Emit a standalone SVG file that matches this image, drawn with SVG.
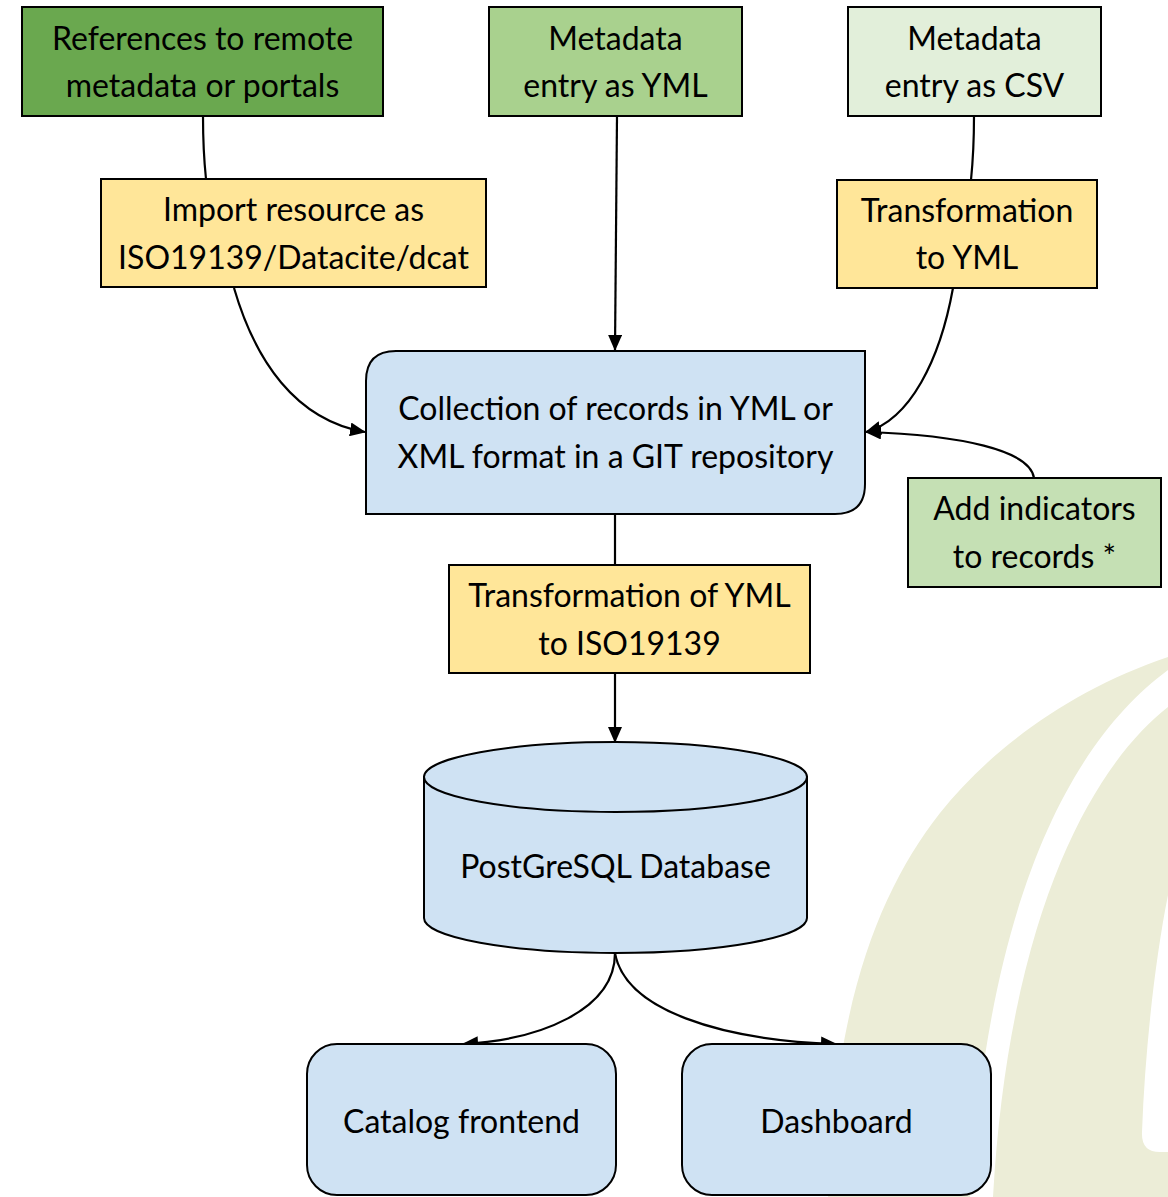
<svg xmlns="http://www.w3.org/2000/svg" width="1168" height="1197" viewBox="0 0 1168 1197">
<defs>
<style>
.box{stroke:#000;stroke-width:2}
.lbl{font-family:Lato,"Open Sans","Liberation Sans",sans-serif;font-size:32px;fill:#000;text-anchor:middle}
.con{fill:none;stroke:#000;stroke-width:2.2}
.wm{fill:#ECEDD7}
</style>
<marker id="arr" markerUnits="userSpaceOnUse" markerWidth="16" markerHeight="14" viewBox="0 0 16 14" refX="15" refY="7" orient="auto">
<path d="M0,0 L16,7 L0,14 Z" fill="#000"/>
</marker>
</defs>
<rect width="1168" height="1197" fill="#fff"/>
<g id="watermark">
<path class="wm" d="M828,1197 C835,1000 880,890 940,813 C990,750 1070,690 1168,657 L1168,670 C1080,735 990,880 970,1197 Z"/>
<path class="wm" d="M1168,707 C1100,760 1010,900 993,1197 L1168,1197 L1168,1152 L1160,1152 Q1141,1152 1142,1132 C1145,1050 1155,960 1168,895 Z"/>
</g>
<g id="connectors">
<path class="con" d="M203,116 C203,145 204,160 206,179"/>
<path class="con" d="M234,288 C255,360 295,420 365,432" marker-end="url(#arr)"/>
<path class="con" d="M617,116 L615,350" marker-end="url(#arr)"/>
<path class="con" d="M974,116 C974,140 973,160 971,180"/>
<path class="con" d="M953,288 C940,360 910,420 866,432" marker-end="url(#arr)"/>
<path class="con" d="M1034,478 C1030,450 960,435 866,432" marker-end="url(#arr)"/>
<path class="con" d="M615,514 L615,565"/>
<path class="con" d="M615,673 L615,742" marker-end="url(#arr)"/>
<path class="con" d="M615,953 C615,1010 540,1040 463,1044" marker-end="url(#arr)"/>
<path class="con" d="M615,953 C625,1010 720,1040 836,1044" marker-end="url(#arr)"/>
</g>
<g id="node-references">
<rect class="box" x="22" y="7" width="361" height="109" fill="#6AA84F"/>
<text class="lbl" x="202.5" y="50">References to remote</text>
<text class="lbl" x="202.5" y="97">metadata or portals</text>
</g>
<g id="node-yml">
<rect class="box" x="489" y="7" width="253" height="109" fill="#A9D18E"/>
<text class="lbl" x="615.5" y="50">Metadata</text>
<text class="lbl" x="615.5" y="97">entry as YML</text>
</g>
<g id="node-csv">
<rect class="box" x="848" y="7" width="253" height="109" fill="#E2EFDA"/>
<text class="lbl" x="974.5" y="50">Metadata</text>
<text class="lbl" x="974.5" y="97">entry as CSV</text>
</g>
<g id="node-import">
<rect class="box" x="101" y="179" width="385" height="108" fill="#FFE699"/>
<text class="lbl" x="293.5" y="221">Import resource as</text>
<text class="lbl" x="293.5" y="269">ISO19139/Datacite/dcat</text>
</g>
<g id="node-transform-yml">
<rect class="box" x="837" y="180" width="260" height="108" fill="#FFE699"/>
<text class="lbl" x="967" y="222">Transformation</text>
<text class="lbl" x="967" y="269">to YML</text>
</g>
<g id="node-collection">
<path class="box" d="M396,351 L865,351 L865,484 Q865,514 835,514 L366,514 L366,381 Q366,351 396,351 Z" fill="#CFE2F3"/>
<text class="lbl" x="615.5" y="420">Collection of records in YML or</text>
<text class="lbl" x="615.5" y="468">XML format in a GIT repository</text>
</g>
<g id="node-indicators">
<rect class="box" x="908" y="478" width="253" height="109" fill="#C5E0B4"/>
<text class="lbl" x="1034.5" y="520">Add indicators</text>
<text class="lbl" x="1034.5" y="568">to records *</text>
</g>
<g id="node-transform-iso">
<rect class="box" x="449" y="565" width="361" height="108" fill="#FFE699"/>
<text class="lbl" x="629.5" y="607">Transformation of YML</text>
<text class="lbl" x="629.5" y="655">to ISO19139</text>
</g>
<g id="node-database">
<path class="box" d="M424,777 L424,918 A191.5,35 0 0 0 807,918 L807,777 Z" fill="#CFE2F3"/>
<ellipse class="box" cx="615.5" cy="777" rx="191.5" ry="35" fill="#CFE2F3"/>
<text class="lbl" x="615.5" y="878">PostGreSQL Database</text>
</g>
<g id="node-catalog">
<rect class="box" x="307" y="1044" width="309" height="151" rx="30" ry="30" fill="#CFE2F3"/>
<text class="lbl" x="461.5" y="1133">Catalog frontend</text>
</g>
<g id="node-dashboard">
<rect class="box" x="682" y="1044" width="309" height="151" rx="30" ry="30" fill="#CFE2F3"/>
<text class="lbl" x="836.5" y="1133">Dashboard</text>
</g>
</svg>
